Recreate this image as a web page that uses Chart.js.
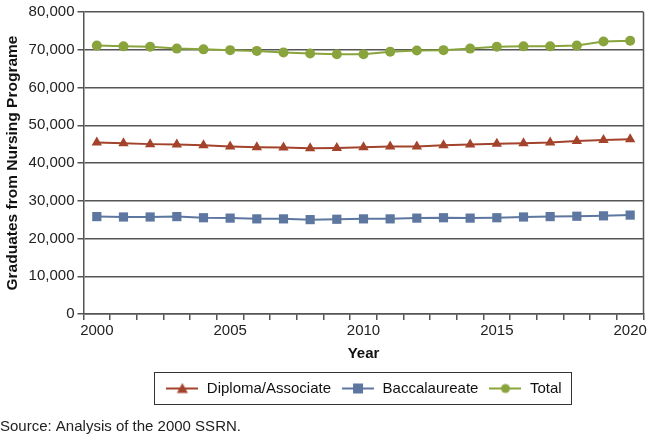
<!DOCTYPE html>
<html>
<head>
<meta charset="utf-8">
<script src="https://cdn.jsdelivr.net/npm/chart.js@4"></script>
<style>
  html, body { margin: 0; padding: 0; background: #fff; }
  #wrap { width: 650px; height: 436px; }
</style>
</head>
<body>
<div id="wrap"><canvas id="chart"></canvas></div>
<script>
const years = ["2000", "2001", "2002", "2003", "2004", "2005", "2006", "2007", "2008", "2009", "2010",
  "2011", "2012", "2013", "2014", "2015", "2016", "2017", "2018", "2019", "2020"];
const diploma = [45400, 45200, 45000, 44900, 44700, 44400, 44200, 44100, 43900, 44000, 44200,
  44400, 44400, 44700, 44900, 45100, 45200, 45400, 45800, 46100, 46300];
const baccalaureate = [25800, 25700, 25700, 25800, 25500, 25400, 25200, 25200, 25000, 25100, 25200,
  25200, 25400, 25500, 25400, 25500, 25700, 25800, 25900, 26000, 26200];
const total = [71100, 70900, 70800, 70300, 70100, 69900, 69700, 69300, 69000, 68800, 68800,
  69500, 69800, 69900, 70300, 70800, 70900, 70900, 71100, 72200, 72400];
const yTicks = [0, 10000, 20000, 30000, 40000, 50000, 60000, 70000, 80000];

const red = "#a3432b";
const blue = "#5d77a0";
const green = "#8aa43d";
const axisColor = "#555555";
const font = "'Liberation Sans', Arial, sans-serif";

// little line+marker pictures for the legend
function legendMarker(color, style) {
  const c = document.createElement("canvas");
  c.width = 32;
  c.height = 14;
  const ctx = c.getContext("2d");
  ctx.strokeStyle = color;
  ctx.fillStyle = color;
  ctx.lineWidth = 2;
  ctx.beginPath();
  ctx.moveTo(0, 7);
  ctx.lineTo(32, 7);
  ctx.stroke();
  ctx.beginPath();
  if (style === "triangle") {
    ctx.moveTo(16, 1.5);
    ctx.lineTo(21.5, 11.5);
    ctx.lineTo(10.5, 11.5);
    ctx.closePath();
  } else if (style === "rect") {
    ctx.rect(11, 2, 10, 10);
  } else {
    ctx.arc(16, 7, 4.5, 0, Math.PI * 2);
  }
  ctx.fill();
  return c;
}
const markers = [legendMarker(red, "triangle"), legendMarker(blue, "rect"), legendMarker(green, "circle")];

const frame = {
  id: "frame",
  afterDraw(chart) {
    const ctx = chart.ctx;
    const area = chart.chartArea;
    ctx.save();
    ctx.strokeStyle = axisColor;
    ctx.lineWidth = 1.5;
    ctx.beginPath();
    ctx.moveTo(area.right, area.top);
    ctx.lineTo(area.right, area.bottom);
    ctx.stroke();
    // box round the legend
    const boxes = chart.legend.legendHitBoxes;
    if (boxes && boxes.length) {
      const left = Math.min(...boxes.map((b) => b.left)) - 11;
      const right = Math.max(...boxes.map((b) => b.left + b.width)) + 10;
      const top = boxes[0].top - 9;
      const bottom = boxes[0].top + boxes[0].height + 8;
      ctx.strokeStyle = "#333333";
      ctx.lineWidth = 1;
      ctx.strokeRect(Math.round(left) + 0.5, Math.round(top) + 0.5, Math.round(right - left), Math.round(bottom - top));
    }
    ctx.restore();
  },
};

const chartData = {
  labels: years,
  datasets: [
    {
      label: "Diploma/Associate",
      data: diploma,
      borderColor: red,
      backgroundColor: red,
      pointStyle: "triangle",
      pointRadius: 6,
    },
    {
      label: "Baccalaureate",
      data: baccalaureate,
      borderColor: blue,
      backgroundColor: blue,
      pointStyle: "rect",
      pointRadius: 6.5,
    },
    {
      label: "Total",
      data: total,
      borderColor: green,
      backgroundColor: green,
      pointStyle: "circle",
      pointRadius: 5,
    },
  ],
};

const chartConfig = {
  type: "line",
  data: chartData,
  plugins: [frame],
  options: {
    responsive: true,
    maintainAspectRatio: false,
    animation: false,
    layout: { padding: { top: 10, right: 4, left: 0, bottom: 0 } },
    elements: {
      line: { borderWidth: 2, tension: 0 },
      point: { borderWidth: 0, hoverRadius: 6 },
    },
    scales: {
      x: {
        type: "category",
        offset: true,
        grid: {
          offset: true,
          drawOnChartArea: false,
          drawTicks: true,
          tickLength: 6,
          color: axisColor,
          lineWidth: 1.5,
        },
        border: { color: axisColor, width: 1.5 },
        ticks: {
          autoSkip: false,
          maxRotation: 0,
          color: "#222",
          font: { family: font, size: 15 },
          padding: 2,
          callback: function (value, index) {
            const y = years[index];
            return Number(y) % 5 === 0 ? y : "";
          },
        },
        title: {
          display: true,
          text: "Year",
          color: "#111",
          font: { family: font, size: 15, weight: "bold" },
          padding: { top: 3, bottom: 8 },
        },
      },
      y: {
        min: 0,
        max: 80000,
        afterBuildTicks: (axis) => {
          axis.ticks = yTicks.map((v) => ({ value: v }));
        },
        grid: {
          color: axisColor,
          lineWidth: 1.5,
          tickLength: 6,
        },
        border: { color: axisColor, width: 1.5 },
        ticks: {
          color: "#222",
          font: { family: font, size: 15 },
          padding: 3,
          callback: (v) => v.toLocaleString("en-US"),
        },
        title: {
          display: true,
          text: "Graduates from Nursing Programe",
          color: "#111",
          font: { family: font, size: 15.5, weight: "bold" },
          padding: { top: 3, bottom: 4 },
        },
      },
    },
    plugins: {
      legend: {
        position: "bottom",
        fullSize: false,
        labels: {
          usePointStyle: true,
          pointStyleWidth: 34,
          padding: 10,
          color: "#111",
          font: { family: font, size: 15 },
          generateLabels: (chart) => {
            const items = Chart.defaults.plugins.legend.labels.generateLabels(chart);
            items.forEach((it, i) => {
              it.pointStyle = markers[i];
            });
            return items;
          },
        },
      },
      title: {
        display: true,
        position: "bottom",
        align: "start",
        text: "Source: Analysis of the 2000 SSRN.",
        color: "#222",
        font: { family: font, size: 15, weight: "normal" },
        padding: { top: 12, bottom: 0 },
      },
      tooltip: { enabled: false },
    },
  },
};

const chart = new Chart("chart", chartConfig);
</script>
</body>
</html>
